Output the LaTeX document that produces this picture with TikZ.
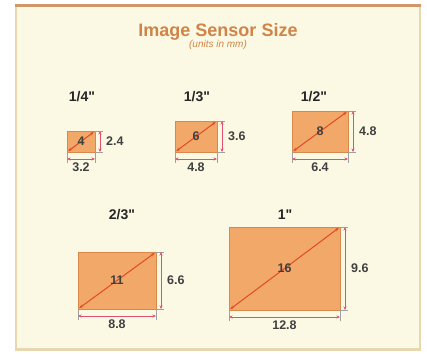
\documentclass[tikz,border=0pt]{standalone}
\usepackage{fontspec}
\setmainfont{Liberation Sans}[Ligatures=TeXOff]
\usetikzlibrary{arrows.meta,calc}
\definecolor{panel}{HTML}{FBF9E4}
\definecolor{topbar}{HTML}{D09868}
\definecolor{edge}{HTML}{E8D8B0}
\definecolor{sensorfill}{HTML}{F2A868}
\definecolor{sensordraw}{HTML}{D8884A}
\definecolor{diag}{HTML}{E04A28}
\definecolor{dim}{HTML}{E05070}
\definecolor{ext}{HTML}{A0A0A0}
\definecolor{titlec}{HTML}{D08448}
\tikzset{
  sensor/.style={fill=sensorfill, draw=sensordraw, line width=0.8pt},
  diagarrow/.style={diag, line width=1pt, {Stealth[length=4pt,width=3pt]}-{Stealth[length=4pt,width=3pt]}, shorten <=1.5pt, shorten >=1.5pt},
  dimarrow/.style={dim, line width=1pt, {Stealth[length=3.5pt,width=3pt]}-{Stealth[length=3.5pt,width=3pt]}},
  extline/.style={ext, line width=0.5pt},
  fmt/.style={font=\bfseries\fontsize{14}{15}\selectfont, text=black!85},
  dimlbl/.style={font=\bfseries\fontsize{12.5}{13}\selectfont, text=black!75, inner sep=0pt},
  diaglbl/.style={font=\bfseries\fontsize{12.5}{13}\selectfont, text=black!75, inner sep=1pt},
}
% #1 name, #2 x0, #3 y0 (top), #4 w, #5 h, #6 diag label, #7 width label, #8 height label
\newcommand{\sensorbox}[8]{%
  \path[sensor] (#2,#3) rectangle ++(#4,#5);
  \coordinate (#1tl) at (#2,#3);
  \coordinate (#1br) at ($(#2,#3)+(#4,#5)$);
  \coordinate (#1bl) at (#2,{#3+#5});
  \coordinate (#1tr) at ({#2+#4},#3);
  \draw[diagarrow] (#1bl) -- (#1tr);
  \node[diaglbl] (#1d) at ({#2+#4/2},{#3+#5/2}) {#6};
  % vertical dimension
  \coordinate (#1va) at ({#2+#4+5},#3);
  \coordinate (#1vb) at ({#2+#4+5},{#3+#5});
  \draw[extline] (#1tr) -- ++(8,0);
  \draw[extline] (#1br) -- ++(8,0);
  \draw[dimarrow] (#1va) -- (#1vb);
  \node[dimlbl, anchor=west] (#1h) at ({#2+#4+11},{#3+#5/2}) {#8};
  % horizontal dimension
  \coordinate (#1ha) at (#2,{#3+#5+7});
  \coordinate (#1hb) at ({#2+#4},{#3+#5+7});
  \draw[extline] (#1bl) -- ++(0,11);
  \draw[extline] (#1br) -- ++(0,11);
  \draw[dimarrow] (#1ha) -- (#1hb);
  \node[dimlbl, anchor=north] (#1w) at ({#2+#4/2},{#3+#5+11}) {#7};
}
\begin{document}
\begin{tikzpicture}[x=1pt,y=-1pt]
\useasboundingbox (0,0) rectangle (427,354);
\fill[white] (0,0) rectangle (427,354);
% panel
\fill[edge] (15,4) rectangle (421,351);
\fill[panel] (17,6) rectangle (419,348);
\fill[topbar] (15,4) rectangle (421,7);
% title
\node[font=\bfseries\fontsize{18}{20}\selectfont, text=titlec] (title) at (218,32) {Image Sensor Size};
\node[font=\itshape\fontsize{10}{11}\selectfont, text=titlec] (sub) at (218,45) {(units in mm)};
% format labels
\node[fmt] (f14) at (82,97) {1/4"};
\node[fmt] (f13) at (197,97) {1/3"};
\node[fmt] (f12) at (314,97) {1/2"};
\node[fmt] (f23) at (122,215) {2/3"};
\node[fmt] (f1) at (285,215) {1"};
% sensors
\sensorbox{a}{67}{131}{28}{21}{4}{3.2}{2.4}
\sensorbox{b}{175}{121}{42}{31}{6}{4.8}{3.6}
\sensorbox{c}{292}{111}{56}{41}{8}{6.4}{4.8}
\sensorbox{d}{78}{252}{78}{57}{11}{8.8}{6.6}
\sensorbox{e}{229}{227}{111}{83}{16}{12.8}{9.6}
\end{tikzpicture}
\end{document}
